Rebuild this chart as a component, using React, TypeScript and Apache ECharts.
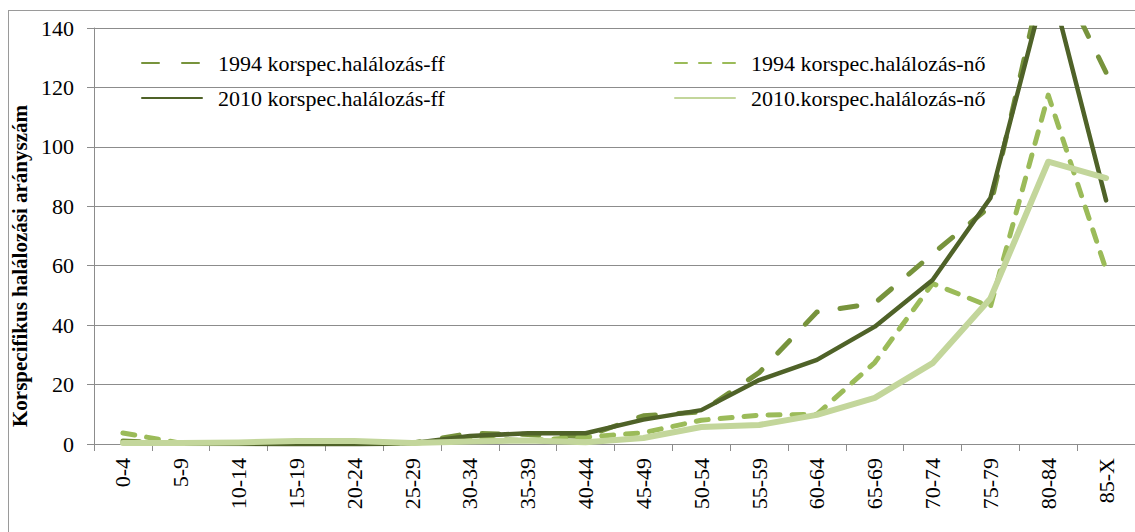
import React, { useEffect, useRef } from "react";
import * as echarts from "echarts";

const categories = ["0-4", "5-9", "10-14", "15-19", "20-24", "25-29", "30-34", "35-39", "40-44", "45-49", "50-54", "55-59", "60-64", "65-69", "70-74", "75-79", "80-84", "85-X"];

const yMin = 0;
const yMax = 140;
const yStep = 20;

const seriesNames = [
  "1994 korspec.halálozás-ff",
  "1994 korspec.halálozás-nő",
  "2010 korspec.halálozás-ff",
  "2010.korspec.halálozás-nő",
];

const ff1994 = [1.0, 0.3, 0.2, 0.3, 0.3, 0.3, 3.6, 3.2, 2.5, 9.5, 10.8, 24, 44.4, 47.4, 64, 80, 165, 125];
const no1994 = [3.7, 0.3, 0.2, 0.2, 0.2, 0.2, 1.8, 1.2, 2.3, 3.8, 8.0, 9.7, 10.0, 27.4, 54, 46.2, 117.4, 58.6];
const ff2010 = [0.5, 0.1, 0.0, -0.3, -0.3, 0.3, 2.7, 3.6, 3.6, 8.2, 11.4, 21.5, 28.3, 39.5, 55.2, 82.8, 158, 82];
const no2010 = [0.3, 0.3, 0.5, 1.0, 1.0, 0.3, 0.8, 1.2, 0.6, 2.0, 5.7, 6.4, 9.8, 15.5, 27.2, 49, 95, 89.5];

const yTitle = "Korspecifikus halálozási arányszám";

const FONT = "Liberation Serif";

export default function App() {
  const ref = useRef<HTMLDivElement | null>(null);

  useEffect(() => {
    if (!ref.current) return;
    const chart = echarts.init(ref.current, undefined, { renderer: "svg" });

    const mkLegend = (name: string, left: number, top: number) => ({
      data: [name],
      left,
      top,
      itemWidth: 60,
      itemHeight: 12,
      itemStyle: { opacity: 0 },
      selectedMode: false,
      padding: 0,
      textStyle: {
        fontFamily: FONT,
        fontSize: 22,
        color: "#000",
        padding: [0, 0, 0, 11],
      },
    });

    chart.setOption({
      animation: false,
      textStyle: { fontFamily: FONT },
      grid: { left: 94, top: 28, right: -8, bottom: 88, containLabel: false },
      legend: [
        mkLegend(seriesNames[0], 141, 52),
        mkLegend(seriesNames[2], 141, 87),
        mkLegend(seriesNames[1], 674, 52),
        mkLegend(seriesNames[3], 674, 87),
      ],
      xAxis: {
        type: "category",
        data: categories,
        boundaryGap: true,
        axisLine: { show: true, lineStyle: { color: "#8c8c8c", width: 1 } },
        axisTick: { show: true, length: 7, interval: 0, lineStyle: { color: "#8c8c8c" } },
        axisLabel: {
          interval: 0,
          rotate: 90,
          margin: 14,
          fontFamily: FONT,
          fontSize: 22,
          color: "#000",
        },
        splitLine: { show: false },
      },
      yAxis: {
        type: "value",
        min: yMin,
        max: yMax,
        interval: yStep,
        name: yTitle,
        nameLocation: "middle",
        nameRotate: 90,
        nameGap: 41,
        nameTextStyle: {
          fontFamily: FONT,
          fontWeight: "bold",
          fontSize: 21,
          color: "#000",
          padding: [0, 60, 0, 0],
        },
        axisLine: { show: true, lineStyle: { color: "#8c8c8c", width: 1 } },
        axisTick: { show: true, length: 7, lineStyle: { color: "#8c8c8c" } },
        axisLabel: {
          margin: 20,
          fontFamily: FONT,
          fontSize: 22,
          color: "#000",
        },
        splitLine: { show: true, lineStyle: { color: "#8c8c8c", width: 1 } },
      },
      series: [
        {
          name: seriesNames[0],
          type: "line",
          data: ff1994,
          symbol: "none",
          itemStyle: { color: "#77933C" },
          lineStyle: { color: "#77933C", width: 5, type: [17, 23], cap: "round", join: "round" },
        },
        {
          name: seriesNames[1],
          type: "line",
          data: no1994,
          symbol: "none",
          itemStyle: { color: "#9BBB59" },
          lineStyle: { color: "#9BBB59", width: 5, type: [12, 12], cap: "round", join: "round" },
        },
        {
          name: seriesNames[2],
          type: "line",
          data: ff2010,
          symbol: "none",
          itemStyle: { color: "#4F6228" },
          lineStyle: { color: "#4F6228", width: 4.5, type: "solid", cap: "round", join: "round" },
        },
        {
          name: seriesNames[3],
          type: "line",
          data: no2010,
          symbol: "none",
          itemStyle: { color: "#C3D69B" },
          lineStyle: { color: "#C3D69B", width: 6, type: "solid", cap: "round", join: "round" },
        },
      ],
    });

    return () => {
      chart.dispose();
    };
  }, []);

  return (
    <>
      <style>{`#chart-root svg text { font-family: "Liberation Serif", "Times New Roman", serif !important; }`}</style>
      <div style={{ position: "fixed", left: 0, top: 0, width: 1135, height: 532, background: "#fff" }} />
      <div
        id="chart-root"
        ref={ref}
        style={{ position: "fixed", left: 0, top: 0, width: 1135, height: 532 }}
      />
      <div
        style={{
          position: "fixed",
          left: 8,
          top: 10,
          width: 1200,
          height: 600,
          border: "1.5px solid #9a9a9a",
          pointerEvents: "none",
        }}
      />
    </>
  );
}
